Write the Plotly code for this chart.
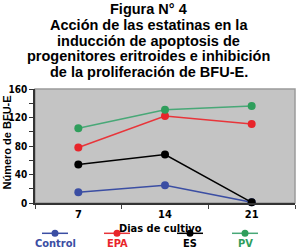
import plotly.graph_objects as go

W, H = 297, 249
L, R, T, B = 35, 2, 89, 46

days = ["7", "14", "21"]
series_names = ["Control", "EPA", "ES", "PV"]
control = [15, 25, 1]
epa = [78, 122, 111]
es = [54, 68, 1]
pv = [105, 131, 136]
colors = ["#3b4ea3", "#e8252b", "#000000", "#2f9e5c"]
line_colors = ["#3b4ea3", "#e8353a", "#000000", "#48a877"]
title_lines = ["Figura N° 4", "Acción de las estatinas en la",
               "inducción de apoptosis de",
               "progenitores eritroides e inhibición",
               "de la proliferación de BFU-E."]

COND = "DejaVu Sans Condensed, Liberation Sans Narrow, Liberation Sans"

pw, ph = W - L - R, H - T - B
def px(x):
    return (x - L) / pw
def py(y):
    return (H - B - y) / ph

fig = go.Figure()
for name, vals, c, lc in zip(series_names, [control, epa, es, pv], colors, line_colors):
    fig.add_trace(go.Scatter(x=days, y=vals, mode="lines+markers", name=name,
                             line=dict(color=lc, width=1.5),
                             marker=dict(color=c, size=8), showlegend=False,
                             cliponaxis=False))

ann = []
title_y = [9, 25, 41, 56.5, 72]
for t, ty in zip(title_lines, title_y):
    ann.append(dict(text="<b>" + t + "</b>", xref="paper", yref="paper", x=px(W / 2),
                    y=py(ty), xanchor="center", yanchor="middle", showarrow=False,
                    borderpad=0,
                    font=dict(family="Liberation Sans", size=14.5, color="#000")))
ann.append(dict(text="<b>Dias de cultivo</b>", xref="paper", yref="paper", x=px(160), y=py(228.5),
                xanchor="center", yanchor="middle", showarrow=False,
                font=dict(family=COND, size=11, color="#000")))
ann.append(dict(text="<b>Número de BFU-E</b>", xref="paper", yref="paper", x=px(6), y=py(142.5),
                xanchor="center", yanchor="middle", showarrow=False, textangle=-90,
                font=dict(family="Liberation Sans", size=11, color="#000")))

shapes = [dict(type="rect", xref="paper", yref="paper", x0=0, x1=1, y0=0, y1=1,
               line=dict(color="#9a9a9a", width=1.5), layer="below")]
legend_x = [55, 117, 190, 245]
for name, c, lc, cx in zip(series_names, colors, line_colors, legend_x):
    shapes.append(dict(type="line", xref="paper", yref="paper", x0=px(cx - 13), x1=px(cx + 13),
                       y0=py(233.3), y1=py(233.3), line=dict(color=lc, width=1.5)))
    shapes.append(dict(type="circle", xref="paper", yref="paper", x0=px(cx - 3.5), x1=px(cx + 3.5),
                       y0=py(236.8), y1=py(229.8), fillcolor=c, line=dict(color=c, width=0)))
    ann.append(dict(text="<b>" + name + "</b>", xref="paper", yref="paper", x=px(cx), y=py(243),
                    xanchor="center", yanchor="middle", showarrow=False, borderpad=0,
                    font=dict(family=COND, size=11, color=c)))

fig.update_layout(
    width=W, height=H, margin=dict(l=L, r=R, t=T, b=B),
    paper_bgcolor="white", plot_bgcolor="#c4c4c4",
    annotations=ann, shapes=shapes,
    xaxis=dict(type="category", range=[-0.5, 2.5], tickson="boundaries", ticks="outside",
               ticklen=4, tickcolor="#444", showline=True, linecolor="#333", linewidth=1.5,
               showgrid=False, zeroline=False,
               tickfont=dict(family=COND, size=11, color="#000"),
               tickprefix="<b>", ticksuffix="</b>"),
    yaxis=dict(range=[0, 160], dtick=40, ticks="outside", ticklen=4, tickcolor="#333",
               showline=True, linecolor="#333", linewidth=1.5, showgrid=False, zeroline=False,
               minor=dict(dtick=20, ticks="outside", ticklen=4, tickcolor="#333"),
               tickfont=dict(family=COND, size=10, color="#000"),
               tickprefix="<b>", ticksuffix="</b>"),
)
fig.write_html("out.html")
